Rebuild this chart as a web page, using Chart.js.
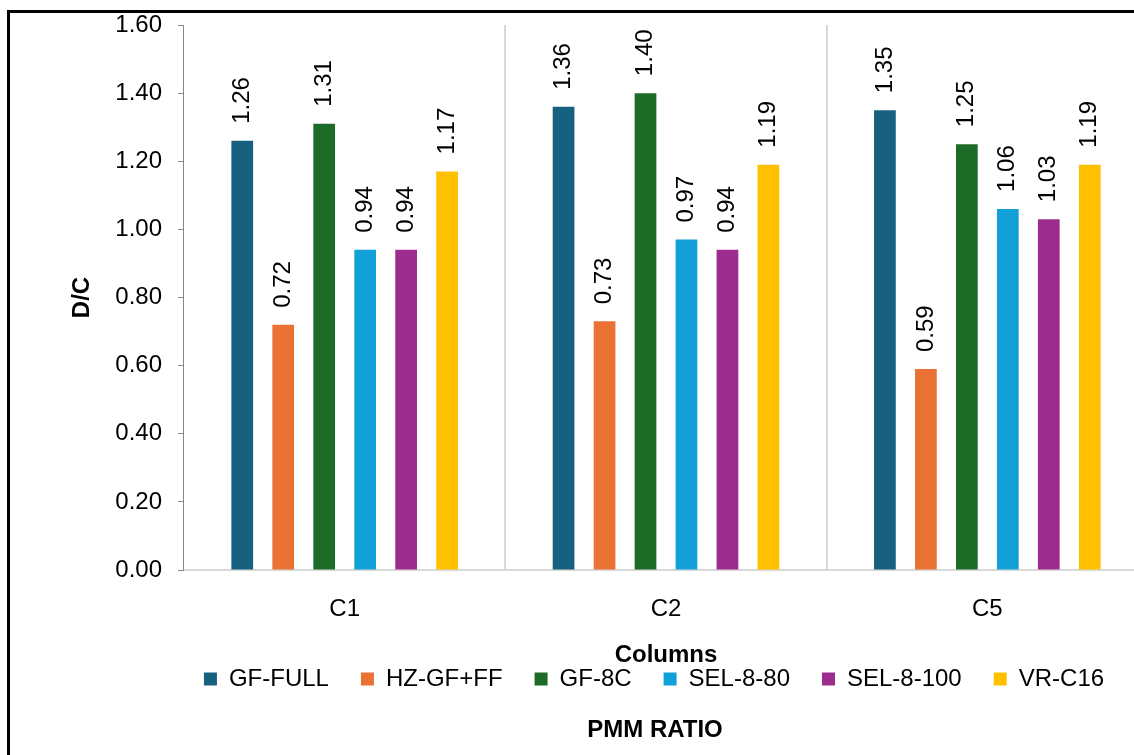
<!DOCTYPE html>
<html>
<head>
<meta charset="utf-8">
<title>D/C by column</title>
<script src="https://cdn.jsdelivr.net/npm/chart.js@4.4.1/dist/chart.umd.min.js"></script>
<style>
  html, body { margin: 0; padding: 0; background: #fff; overflow: hidden; width: 1134px; height: 755px; }
  #wrap { position: relative; width: 1160px; height: 755px; }
  #wrap canvas { position: absolute; left: 0; top: 0; }
  #frame { position: absolute; left: 7px; top: 10px; width: 1300px; height: 900px;
           border-left: 3px solid #000; border-top: 3px solid #000; box-sizing: border-box; pointer-events: none; }
</style>
</head>
<body>
<div id="wrap">
  <canvas id="chart" width="1160" height="755"></canvas>
  <div id="frame"></div>
</div>
<script>
// Column groups on the x axis
const categories = ['C1', 'C2', 'C5'];

// D/C ratio per model, one value per column group
const seriesNames = ['GF-FULL', 'HZ-GF+FF', 'GF-8C', 'SEL-8-80', 'SEL-8-100', 'VR-C16'];
const gfFull  = [1.26, 1.36, 1.35];
const hzGfFf  = [0.72, 0.73, 0.59];
const gf8c    = [1.31, 1.40, 1.25];
const sel880  = [0.94, 0.97, 1.06];
const sel8100 = [0.94, 0.94, 1.03];
const vrC16   = [1.17, 1.19, 1.19];

// Value axis ticks
const yMin = 0;
const yMax = 1.6;
const yStep = 0.2;

const seriesColors = ['#17607F', '#EA7235', '#1C6B26', '#12A0D8', '#9D2C8F', '#FFC000'];
const seriesValues = [gfFull, hzGfFf, gf8c, sel880, sel8100, vrC16];

const FONT = '"Liberation Sans", Arial, Helvetica, sans-serif';
const SIZE = 24;
Chart.defaults.font.family = FONT;
Chart.defaults.font.size = SIZE;
Chart.defaults.color = '#000';

// Rotated value labels above each bar
const valueLabels = {
  id: 'valueLabels',
  afterDatasetsDraw(chart) {
    const ctx = chart.ctx;
    ctx.save();
    ctx.font = SIZE + 'px ' + FONT;
    ctx.fillStyle = '#000';
    ctx.textAlign = 'left';
    ctx.textBaseline = 'middle';
    chart.data.datasets.forEach((ds, i) => {
      chart.getDatasetMeta(i).data.forEach((bar, j) => {
        ctx.save();
        ctx.translate(bar.x, bar.y - 17);
        ctx.rotate(-Math.PI / 2);
        ctx.fillText(ds.data[j].toFixed(2), 0, 0);
        ctx.restore();
      });
    });
    ctx.restore();
  }
};

// Caption under the legend
const caption = {
  id: 'caption',
  afterDraw(chart) {
    const ctx = chart.ctx;
    ctx.save();
    ctx.font = 'bold ' + SIZE + 'px ' + FONT;
    ctx.fillStyle = '#000';
    ctx.textAlign = 'center';
    ctx.textBaseline = 'middle';
    ctx.fillText('PMM RATIO', 655, 730);
    ctx.restore();
  }
};

new Chart(document.getElementById('chart'), {
  type: 'bar',
  data: {
    labels: categories,
    datasets: seriesNames.map((name, i) => ({
      label: name,
      data: seriesValues[i],
      backgroundColor: seriesColors[i],
      borderWidth: 0,
      categoryPercentage: 0.765,
      barPercentage: 0.53
    }))
  },
  options: {
    responsive: false,
    animation: false,
    devicePixelRatio: 1,
    layout: { padding: { left: 160, right: 12, top: 25, bottom: 54 } },
    plugins: {
      tooltip: { enabled: false },
      title: { display: false },
      legend: {
        position: 'bottom',
        labels: {
          boxWidth: 13,
          boxHeight: 13,
          padding: 32,
          font: { size: SIZE },
          color: '#000'
        }
      }
    },
    scales: {
      x: {
        grid: {
          display: true,
          drawOnChartArea: true,
          drawTicks: false,
          lineWidth: 2,
          color: (c) => (c.index === 0 ? 'rgba(0,0,0,0)' : '#D9D9D9')
        },
        border: { display: true, color: '#D9D9D9', width: 2 },
        ticks: { padding: 25, font: { size: SIZE }, color: '#000' },
        title: {
          display: true,
          text: 'Columns',
          font: { size: SIZE, weight: 'bold' },
          color: '#000',
          padding: { top: -8.2, bottom: -34.4 }
        }
      },
      y: {
        min: yMin,
        max: yMax,
        grid: {
          display: true,
          drawOnChartArea: false,
          drawTicks: true,
          tickLength: 6,
          color: '#868686'
        },
        border: { display: true, color: '#868686', width: 1 },
        ticks: {
          stepSize: yStep,
          mirror: true,
          crossAlign: 'far',
          padding: -68.7,
          font: { size: SIZE },
          color: '#000',
          callback: (v) => Number(v).toFixed(2)
        },
        title: {
          display: true,
          text: 'D/C',
          font: { size: SIZE, weight: 'bold' },
          color: '#000',
          padding: { top: -92.4, bottom: 219 }
        }
      }
    }
  },
  plugins: [valueLabels, caption]
});
</script>
</body>
</html>
